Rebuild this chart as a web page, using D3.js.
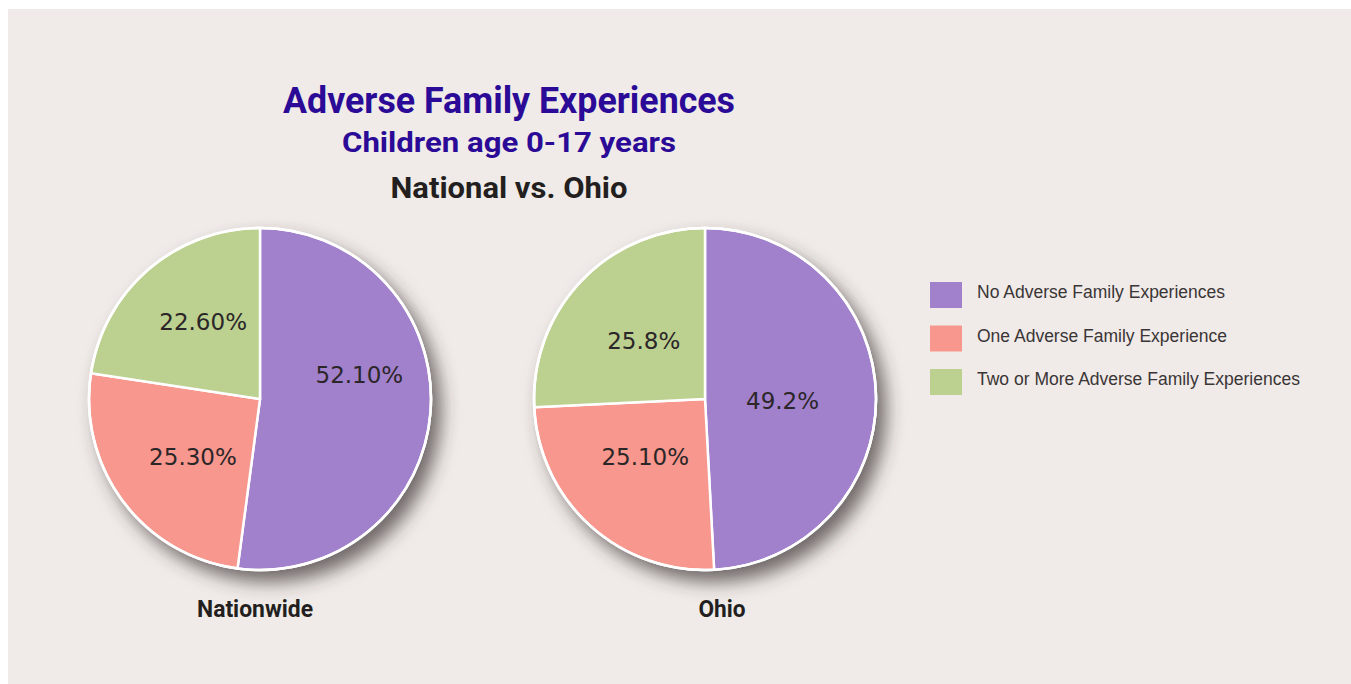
<!DOCTYPE html>
<html><head><meta charset="utf-8">
<script src="https://cdn.jsdelivr.net/npm/d3@7"></script>
<style>
html,body{margin:0;padding:0;background:#fff;}
svg{display:block;}
</style></head>
<body>
<svg id="chart" width="1351" height="684"></svg>
<script>
const categories = ["No Adverse Family Experiences", "One Adverse Family Experience", "Two or More Adverse Family Experiences"];
const regions = ["Nationwide", "Ohio"];
const nationwideValues = [52.1, 25.3, 22.6];
const ohioValues = [49.2, 25.1, 25.8];
const nationwideLabels = ["52.10%", "25.30%", "22.60%"];
const ohioLabels = ["49.2%", "25.10%", "25.8%"];
const colors = ["#a180cc", "#f7978d", "#bcd08f"];
const titleText = "Adverse Family Experiences";
const subtitleText = "Children age 0-17 years";
const subtitle2Text = "National vs. Ohio";

const svg = d3.select("#chart");
const W = 1351, H = 684;
const condensed = "Roboto,'Liberation Sans',sans-serif";

svg.append("rect").attr("x",0).attr("y",0).attr("width",W).attr("height",H).attr("fill","#ffffff");
svg.append("rect").attr("x",8).attr("y",9).attr("width",W-8).attr("height",H-9).attr("fill","#f0ebe8");

const defs = svg.append("defs");
const f = defs.append("filter").attr("id","shadow").attr("x","-25%").attr("y","-25%").attr("width","160%").attr("height","160%");
f.append("feDropShadow").attr("dx",9).attr("dy",11).attr("stdDeviation",9)
  .attr("flood-color","#3a3030").attr("flood-opacity",0.7);

function condText(x, y, size, color, txt, len) {
  svg.append("text").attr("x",x).attr("y",y).attr("text-anchor","middle")
    .attr("font-family",condensed).attr("font-weight","bold").attr("font-size",size)
    .attr("textLength",len).attr("lengthAdjust","spacingAndGlyphs")
    .attr("fill",color).text(txt);
}
condText(509, 113, 36, "#2a0a96", titleText, 452);
condText(509, 152, 28.5, "#2a0a96", subtitleText, 334);
condText(509, 198, 30, "#231f20", subtitle2Text, 237);

const R = 171;
const centers = d3.scalePoint().domain(regions).range([260, 705]);
const cy = 399;
const pie = d3.pie().sort(null).value(d => d);
const arc = d3.arc().innerRadius(0).outerRadius(R);
const labelArc = d3.arc().innerRadius(R*0.6).outerRadius(R*0.6);

// small manual label nudges (relative to arc centroid), as in the original layout
const nudges = {
  Nationwide: [[-3,-31],[15,-4],[10,1]],
  Ohio: [[-25,4],[9,-18],[13,12]]
};
const nameShift = {Nationwide: -5, Ohio: 17};
const nameLen = {Nationwide: 116, Ohio: 47};

const datasets = [
  {name: regions[0], values: nationwideValues, labels: nationwideLabels},
  {name: regions[1], values: ohioValues, labels: ohioLabels}
];

datasets.forEach(ds => {
  const cx = centers(ds.name);
  const g = svg.append("g").attr("transform",`translate(${cx},${cy})`);
  const arcs = pie(ds.values);
  const pg = g.append("g").attr("filter","url(#shadow)");
  pg.selectAll("path").data(arcs).join("path")
    .attr("d", arc).attr("fill",(d,i)=>colors[i])
    .attr("stroke","#ffffff").attr("stroke-width",2.5).attr("stroke-linejoin","round");
  g.append("circle").attr("r",R).attr("fill","none").attr("stroke","#fff").attr("stroke-width",2.5);
  g.selectAll("text.lbl").data(arcs).join("text").attr("class","lbl")
    .attr("x", (d,i) => labelArc.centroid(d)[0] + nudges[ds.name][i][0])
    .attr("y", (d,i) => labelArc.centroid(d)[1] + nudges[ds.name][i][1])
    .attr("dy","0.36em").attr("text-anchor","middle")
    .attr("font-family","'DejaVu Sans',sans-serif").attr("font-size",23)
    .attr("fill","#2b2628").text((d,i)=>ds.labels[i]);
  svg.append("text").attr("x",cx + nameShift[ds.name]).attr("y",617).attr("text-anchor","middle")
    .attr("font-family",condensed).attr("font-weight","bold").attr("font-size",24)
    .attr("textLength",nameLen[ds.name]).attr("lengthAdjust","spacingAndGlyphs")
    .attr("fill","#231f20").text(ds.name);
});

const legendY = d3.scalePoint().domain(categories).range([295, 382]);
const lg = svg.append("g");
categories.forEach((c,i) => {
  const y = legendY(c);
  lg.append("rect").attr("x",930).attr("y",y-13).attr("width",32).attr("height",26).attr("fill",colors[i]);
  lg.append("text").attr("x",977).attr("y",y-3).attr("dy","0.35em")
    .attr("font-family","'Liberation Sans',Arial,sans-serif").attr("font-size",17.5)
    .attr("fill","#3a3536").text(c);
});
</script>
</body></html>
